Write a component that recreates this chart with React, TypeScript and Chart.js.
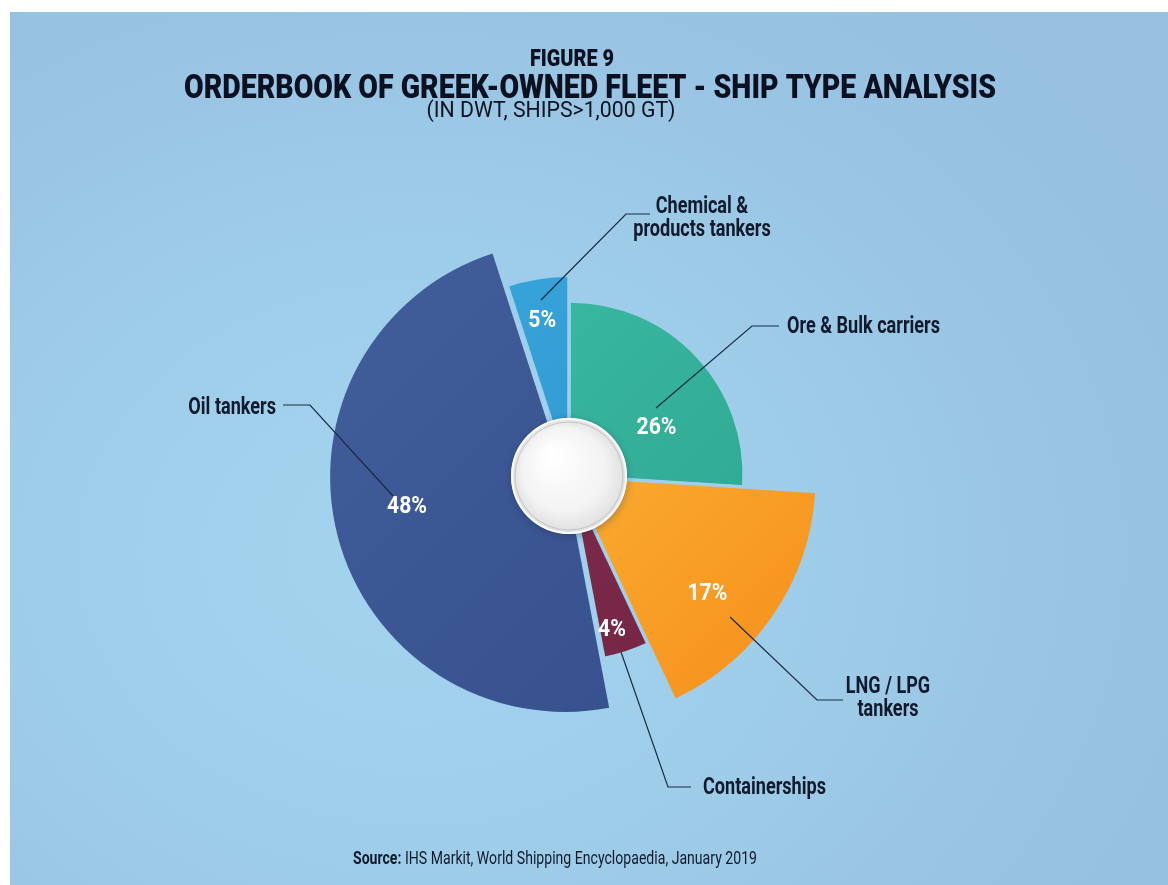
import React, { useEffect, useRef } from "react";
import { Chart, registerables } from "chart.js";

Chart.register(...registerables);

// ---------- data ----------
const CATEGORIES = [
  "Ore & Bulk carriers",
  "LNG / LPG tankers",
  "Containerships",
  "Oil tankers",
  "Chemical & products tankers",
];
const SHARES = [26, 17, 4, 48, 5];
const SHARE_LABELS = ["26%", "17%", "4%", "48%", "5%"];

const TITLE_TOP = "FIGURE 9";
const TITLE = "ORDERBOOK OF GREEK-OWNED FLEET - SHIP TYPE ANALYSIS";
const SUBTITLE = "(IN DWT, SHIPS>1,000 GT)";
const SOURCE_BOLD = "Source:";
const SOURCE_TEXT = " IHS Markit, World Shipping Encyclopaedia, January 2019";

// ---------- style / layout ----------
const W = 1168;
const H = 885;
const CX = 569;
const CY = 476;
const BASE_R = 245;
const SLICE_RADII = [172, 245, 182, 235, 196];
const EXPLODE = [2, 2, 2, 4, 3];
const COLORS_A = ["#3cbaa2", "#fdbd3c", "#82304f", "#3f5b98", "#37a4da"];
const COLORS_B = ["#2aa48f", "#f6901c", "#722443", "#354f8b", "#2a8fc8"];
// percentage label anchor: [degrees clockwise from top, radius]
const PCT_POS: [number, number][] = [
  [61, 100],
  [130.5, 182],
  [164.4, 160],
  [259, 165],
  [350.2, 157],
];
const CALLOUTS = [
  { lines: ["Ore & Bulk carriers"], align: "left", x: 787, y: 333, path: [[656, 408], [752, 326], [779, 326]] },
  { lines: ["LNG / LPG", "tankers"], align: "center", x: 888, y: 693, path: [[730, 617], [817, 700], [843, 700]] },
  { lines: ["Containerships"], align: "left", x: 703, y: 794, path: [[621, 652], [668, 787], [691, 787]] },
  { lines: ["Oil tankers"], align: "right", x: 276, y: 414, path: [[283, 405], [310, 405], [393, 496]] },
  { lines: ["Chemical &", "products tankers"], align: "center", x: 702, y: 213, path: [[541, 300], [626, 214], [650, 214]] },
];
const TEXT_DARK = "#111a2c";
const FONT = "Roboto, 'Liberation Sans', sans-serif";

function squeezeText(
  ctx: CanvasRenderingContext2D,
  text: string,
  x: number,
  y: number,
  font: string,
  color: string,
  align: CanvasTextAlign,
  sx: number,
  baseline: CanvasTextBaseline = "alphabetic"
) {
  ctx.save();
  ctx.font = font;
  ctx.fillStyle = color;
  ctx.textAlign = align;
  ctx.textBaseline = baseline;
  ctx.translate(x, y);
  ctx.scale(sx, 1);
  ctx.fillText(text, 0, 0);
  ctx.restore();
}

function squeezeFor(ctx: CanvasRenderingContext2D, text: string, font: string, width: number) {
  ctx.save();
  ctx.font = font;
  const w = ctx.measureText(text).width;
  ctx.restore();
  return w > 0 ? width / w : 1;
}

const shapePlugin = {
  id: "shapePlugin",
  afterDatasetUpdate(chart: any) {
    const meta = chart.getDatasetMeta(0);
    const base = meta.controller.outerRadius || BASE_R;
    const ca = chart.chartArea;
    const cx = (ca.left + ca.right) / 2;
    const cy = (ca.top + ca.bottom) / 2;
    meta.data.forEach((el: any, i: number) => {
      el.outerRadius = (SLICE_RADII[i] / BASE_R) * base;
      const mid = (el.startAngle + el.endAngle) / 2;
      el.x = cx + Math.cos(mid) * EXPLODE[i];
      el.y = cy + Math.sin(mid) * EXPLODE[i];
    });
  },
  afterDatasetsDraw(chart: any) {
    const ctx: CanvasRenderingContext2D = chart.ctx;
    const meta = chart.getDatasetMeta(0);
    const ca = chart.chartArea;
    const cx = (ca.left + ca.right) / 2;
    const cy = (ca.top + ca.bottom) / 2;
    // cut gaps between slices
    ctx.save();
    ctx.globalCompositeOperation = "destination-out";
    ctx.strokeStyle = "#000";
    ctx.lineWidth = 3.5;
    meta.data.forEach((el: any) => {
      const a = el.startAngle;
      ctx.beginPath();
      ctx.moveTo(cx, cy);
      ctx.lineTo(cx + Math.cos(a) * 320, cy + Math.sin(a) * 320);
      ctx.stroke();
    });
    ctx.restore();
    // centre disc
    const r = 58;
    ctx.save();
    ctx.shadowColor = "rgba(20,40,70,0.35)";
    ctx.shadowBlur = 8;
    ctx.shadowOffsetY = 2;
    const g = ctx.createRadialGradient(cx - 18, cy - 22, 4, cx, cy, r);
    g.addColorStop(0, "#ffffff");
    g.addColorStop(0.7, "#f3f3f3");
    g.addColorStop(1, "#dedede");
    ctx.fillStyle = g;
    ctx.beginPath();
    ctx.arc(cx, cy, r, 0, Math.PI * 2);
    ctx.fill();
    ctx.restore();
    ctx.save();
    ctx.strokeStyle = "rgba(190,190,190,0.8)";
    ctx.lineWidth = 1;
    ctx.beginPath();
    ctx.arc(cx, cy, r - 4, 0, Math.PI * 2);
    ctx.stroke();
    ctx.strokeStyle = "rgba(255,255,255,0.9)";
    ctx.lineWidth = 2;
    ctx.beginPath();
    ctx.arc(cx, cy, r - 1, 0, Math.PI * 2);
    ctx.stroke();
    ctx.restore();
  },
  afterDraw(chart: any) {
    const ctx: CanvasRenderingContext2D = chart.ctx;
    const ca = chart.chartArea;
    const cx = (ca.left + ca.right) / 2;
    const cy = (ca.top + ca.bottom) / 2;

    // titles
    const fFig = `900 24px ${FONT}`;
    squeezeText(ctx, TITLE_TOP, 572, 66, fFig, "#0b1120", "center", squeezeFor(ctx, TITLE_TOP, fFig, 84));
    const fTitle = `900 34px ${FONT}`;
    squeezeText(ctx, TITLE, 590, 98, fTitle, "#0b1120", "center", squeezeFor(ctx, TITLE, fTitle, 812));
    const fSub = `400 22px ${FONT}`;
    squeezeText(ctx, SUBTITLE, 551, 117, fSub, "#0b1120", "center", squeezeFor(ctx, SUBTITLE, fSub, 249));

    // leader lines
    ctx.save();
    ctx.strokeStyle = "#1b2a40";
    ctx.lineWidth = 1.2;
    CALLOUTS.forEach((c) => {
      ctx.beginPath();
      c.path.forEach((p, k) => (k === 0 ? ctx.moveTo(p[0], p[1]) : ctx.lineTo(p[0], p[1])));
      ctx.stroke();
    });
    ctx.restore();

    // category labels
    const fLab = `700 23px ${FONT}`;
    const sLab = squeezeFor(ctx, "Ore & Bulk carriers", fLab, 153);
    CALLOUTS.forEach((c) => {
      c.lines.forEach((ln, k) => {
        squeezeText(ctx, ln, c.x, c.y + k * 23, fLab, TEXT_DARK, c.align as CanvasTextAlign, sLab);
      });
    });

    // percentage labels
    const fPct = `700 24px ${FONT}`;
    const sPct = squeezeFor(ctx, "48%", fPct, 40);
    SHARE_LABELS.forEach((t, i) => {
      const [deg, rr] = PCT_POS[i];
      const a = (deg * Math.PI) / 180;
      squeezeText(ctx, t, cx + rr * Math.sin(a), cy - rr * Math.cos(a), fPct, "#ffffff", "center", sPct, "middle");
    });

    // source
    const fSrcB = `700 18px ${FONT}`;
    const fSrc = `400 18px ${FONT}`;
    ctx.save();
    ctx.font = fSrcB;
    const wb = ctx.measureText(SOURCE_BOLD).width;
    ctx.font = fSrc;
    const wr = ctx.measureText(SOURCE_TEXT).width;
    ctx.restore();
    const sSrc = 404 / (wb + wr);
    const x0 = 555 - 202;
    squeezeText(ctx, SOURCE_BOLD, x0, 864, fSrcB, TEXT_DARK, "left", sSrc);
    squeezeText(ctx, SOURCE_TEXT, x0 + wb * sSrc, 864, fSrc, TEXT_DARK, "left", sSrc);
  },
};

export default function App() {
  const ref = useRef<HTMLCanvasElement | null>(null);

  useEffect(() => {
    const canvas = ref.current;
    if (!canvas) return;
    const chart = new Chart(canvas, {
      type: "pie",
      data: {
        labels: CATEGORIES,
        datasets: [
          {
            data: SHARES,
            borderWidth: 0,
            backgroundColor: (c: any) => {
              const i = c.dataIndex ?? 0;
              const ch = c.chart;
              const ca = ch.chartArea;
              if (!ca) return COLORS_A[i];
              const cx = (ca.left + ca.right) / 2;
              const cy = (ca.top + ca.bottom) / 2;
              const g = ch.ctx.createLinearGradient(cx - 150, cy - 150, cx + 220, cy + 220);
              g.addColorStop(0, COLORS_A[i]);
              g.addColorStop(1, COLORS_B[i]);
              return g;
            },
          },
        ],
      },
      options: {
        responsive: false,
        animation: false,
        events: [],
        layout: {
          padding: {
            left: CX - BASE_R,
            right: W - (CX + BASE_R),
            top: CY - BASE_R,
            bottom: H - (CY + BASE_R),
          },
        },
        plugins: {
          legend: { display: false },
          tooltip: { enabled: false },
          title: { display: false },
        },
      } as any,
      plugins: [shapePlugin as any],
    });
    return () => chart.destroy();
  }, []);

  return (
    <div style={{ position: "absolute", left: 0, top: 0, width: W, height: H, background: "#ffffff", overflow: "hidden" }}>
      <div
        style={{
          position: "absolute",
          left: 10,
          top: 12,
          right: 0,
          bottom: 0,
          background:
            "radial-gradient(ellipse 75% 80% at 35% 62%, #a3d4ee 0%, #9ecde9 45%, #99c4e3 75%, #97c0e1 100%)",
        }}
      />
      <canvas ref={ref} width={W} height={H} style={{ position: "absolute", left: 0, top: 0, width: W, height: H }} />
    </div>
  );
}
